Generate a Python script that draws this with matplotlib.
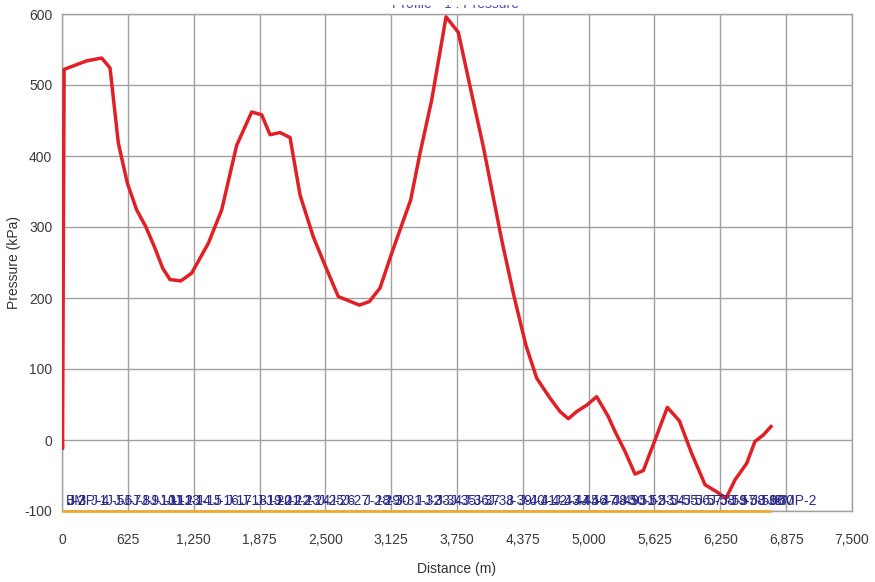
import matplotlib
matplotlib.use("Agg")
import matplotlib.pyplot as plt
from matplotlib.ticker import FuncFormatter, MultipleLocator
from matplotlib.transforms import Bbox

# ---- data ----
distance_m = [0, 5, 20, 234, 377, 456, 535, 620, 709, 797, 883, 956, 1025, 1127,
              1231, 1389, 1516, 1658, 1801, 1896, 1975, 2070, 2165, 2260, 2386,
              2497, 2623, 2823, 2918, 3019, 3130, 3310, 3399, 3510, 3646, 3763,
              3874, 4000, 4174, 4295, 4405, 4507, 4633, 4728, 4807, 4886, 4981,
              5076, 5186, 5250, 5345, 5440, 5519, 5630, 5747, 5861, 5978, 6105,
              6215, 6304, 6390, 6500, 6579, 6658, 6731]
pressure_kpa = [25, -12, 522, 534, 538, 524, 418, 362, 324, 300, 270, 242, 226, 224,
                235, 277, 324, 415, 462, 458, 430, 433, 426, 345, 286,
                246, 202, 190, 195, 214, 263, 338, 404, 479, 596, 574,
                498, 413, 282, 200, 133, 87, 59, 40, 30, 40, 49,
                61, 33, 12, -16, -48, -43, 0, 46, 27, -19, -63,
                -73, -82, -56, -33, -2, 7, 19]
node_labels = ["BMP-1", "J-2", "J-3", "J-4", "J-5", "J-6", "J-7", "J-8", "J-9", "J-10",
               "J-11", "J-12", "J-13", "J-14", "J-15", "J-16", "J-17", "J-18", "J-19",
               "J-20", "J-21", "J-22", "J-23", "J-24", "J-25", "J-26", "J-27", "J-28",
               "J-29", "J-30", "J-31", "J-32", "J-33", "J-34", "J-35", "J-36", "J-37",
               "J-38", "J-39", "J-40", "J-41", "J-42", "J-43", "J-44", "J-45", "J-46",
               "J-47", "J-48", "J-49", "J-50", "J-51", "J-52", "J-53", "J-54", "J-55",
               "J-56", "J-57", "J-58", "J-59", "J-57", "J-58", "J-59", "J-60", "J-60",
               "BMP-2"]
ground_level = -100
x_ticks = [0, 625, 1250, 1875, 2500, 3125, 3750, 4375, 5000, 5625, 6250, 6875, 7500]
title = "Profile - 1 : Pressure"
x_label = "Distance (m)"
y_label = "Pressure (kPa)"

# ---- figure ----
plt.rcParams['font.family'] = ['Liberation Sans', 'DejaVu Sans']
plt.rcParams['axes.unicode_minus'] = False
W, H = 875, 582
fig = plt.figure(figsize=(W / 100, H / 100), dpi=100)
ax = fig.add_axes([62 / W, 1 - 511 / H, (852 - 62) / W, (511 - 14) / H])

ax.set_xlim(x_ticks[0], x_ticks[-1])
ax.set_ylim(-100, 600)
ax.set_xticks(x_ticks)
ax.yaxis.set_major_locator(MultipleLocator(100))
ax.xaxis.set_major_formatter(FuncFormatter(lambda v, p: f"{int(v):,}"))
ax.grid(True, color="#a0a0a0", linewidth=1.0)
ax.set_axisbelow(True)
for s in ax.spines.values():
    s.set_color("#a0a0a0")
    s.set_linewidth(1.0)
ax.tick_params(length=0, labelsize=10, labelcolor="#3a3a3a")
ax.tick_params(axis="x", pad=16)
ax.tick_params(axis="y", pad=7)

# ground/orange line
ax.plot([distance_m[0], distance_m[-1]], [ground_level, ground_level],
        color="#f0a830", linewidth=2.0, solid_capstyle="butt", zorder=3, clip_on=False)

# pressure line
ax.plot(distance_m, pressure_kpa, color="#e01f26", linewidth=2.5, zorder=4,
        solid_joinstyle="round")

# node labels
for d, lab in zip(distance_m, node_labels):
    ax.annotate(lab, (d, ground_level), xytext=(3, 2), textcoords="offset points",
                ha="left", va="bottom", fontsize=10, color="#2a2a88", zorder=5)

ax.set_xlabel(x_label, fontsize=10, color="#333333", labelpad=11)
ax.set_ylabel(y_label, fontsize=10, color="#333333")
ax.yaxis.set_label_coords((21 - 62) / (852 - 62), 0.5)

# title: only its lower edge shows in the reference (cropped at the top)
t = fig.text(455 / W, 1 - 8.5 / H, title, ha="center", va="baseline",
             fontsize=10, color="#5050b8")
t.set_clip_on(True)
t.set_clip_box(Bbox.from_extents(0, H - 10, W, H - 5))

fig.savefig("out.png", dpi=100)
